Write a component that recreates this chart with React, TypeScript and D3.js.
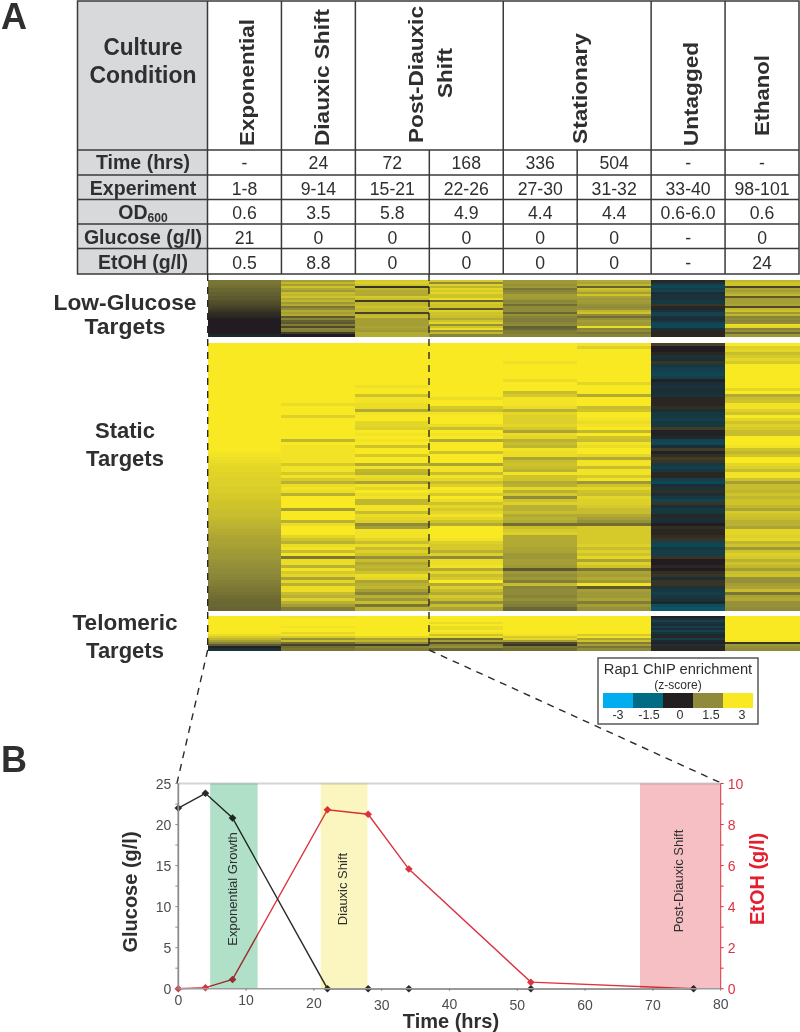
import React from "react";
import * as d3 from "d3";

// table
const columnTitles = ["Exponential", "Diauxic Shift", "Stationary", "Untagged", "Ethanol"];
const rowTitles = ["Time (hrs)", "Experiment", "OD", "Glucose (g/l)", "EtOH (g/l)"];
const timeRow = ["-", "24", "72", "168", "336", "504", "-", "-"];
const experimentRow = ["1-8", "9-14", "15-21", "22-26", "27-30", "31-32", "33-40", "98-101"];
const odRow = ["0.6", "3.5", "5.8", "4.9", "4.4", "4.4", "0.6-6.0", "0.6"];
const glucoseRow = ["21", "0", "0", "0", "0", "0", "-", "0"];
const etohRow = ["0.5", "8.8", "0", "0", "0", "0", "-", "24"];

// heatmap z-scores, one array per column, top row first
const lowGlucose = [
  [1.2, 1.2, 1.15, 1.1, 1, 1, 0.9, 0.9, 0.8, 0.8, 0.7, 0.65, 0.6, 0.5, 0.4, 0.3, 0.2, 0.15, 0.1, 0, 0, 0, 0, 0, 0, 0, 0, -0.2],
  [1.8, 2.2, 1.8, 2.4, 2, 1.7, 2.3, 2.2, 2.4, 2, 2.2, 1.7, 2, 1.2, 1.5, 2, 1.8, 2, 0.8, 1.4, 0.9, 0.8, 1.3, 0.6, 1.4, 1.3, 0.4, 0],
  [2.5, 2.6, 2.4, 0.3, 2.2, 2, 2, 2, 2.5, 2.3, 0.4, 2.2, 2.2, 2.4, 2.2, 2.2, 0.5, 2.2, 2.3, 1.8, 1.8, 1.8, 1.8, 1.9, 1.8, 1.7, 2, 2],
  [2.5, 1.5, 2.6, 2.2, 2.7, 2.5, 2.7, 2.4, 2.4, 2.8, 1, 2.5, 2.4, 2.4, 0.8, 2.6, 2.4, 2.4, 2.3, 2, 2.4, 2.7, 1.6, 2.4, 2.8, 1.6, 2.2, 1.4],
  [1.7, 1.7, 1.6, 1.7, 1.2, 1.4, 1.5, 1.8, 1.8, 1.7, 1.4, 1.5, 1.1, 1.5, 1.5, 1.5, 1, 1.6, 1.4, 1.3, 1.3, 1.4, 1.5, 0.9, 1, 1.3, 1.3, 1.4],
  [2, 1.9, 2.2, 0.9, 2.4, 2.2, 1.8, 2.4, 1.9, 1.7, 1.8, 1.7, 1.6, 1.5, 1.6, 2.2, 2.4, 1.5, 1.1, 1.6, 1.8, 1.7, 1.7, 2.8, 1.4, 1.5, 1.2, 1.4],
  [0.1, -0.4, -0.7, -0.8, -0.6, -0.7, -0.3, -0.4, -0.4, -0.4, -0.5, -0.5, 0.3, 0.1, -0.2, -0.4, -0.7, -0.7, -0.4, -0.3, -0.4, -0.7, -0.8, -0.8, -0.3, 0.1, 0.1, 0.1],
  [2.2, 2.4, 2.4, 0.5, 1.9, 1.8, 2, 2.2, 0.8, 1.8, 1.8, 1.8, 1.9, 0.6, 2.2, 2.4, 1.7, 2.2, 1.4, 1.5, 1.4, 1.5, 2.8, 2.7, 1.4, 1.6, 1, 1.7],
];

const staticTargets = [
  [
    3, 3, 3, 3, 3, 3, 3, 3, 3, 3,
    3, 3, 3, 3, 3, 3, 3, 3, 3, 3,
    3, 3, 3, 3, 3, 3, 3, 3, 3, 3,
    3, 3, 3, 3, 3, 3, 2.95, 2.9, 2.85, 2.8,
    2.75, 2.7, 2.7, 2.65, 2.65, 2.6, 2.6, 2.6, 2.55, 2.55,
    2.5, 2.5, 2.45, 2.4, 2.4, 2.35, 2.3, 2.3, 2.25, 2.2,
    2.15, 2.1, 2.05, 2, 1.95, 1.9, 1.9, 1.85, 1.8, 1.75,
    1.7, 1.7, 1.65, 1.6, 1.55, 1.5, 1.5, 1.45, 1.4, 1.35,
    1.3, 1.25, 1.2, 1.15, 1.1, 1.05, 1, 1, 0.95,
  ],
  [
    3, 3, 3, 3, 3, 3, 3, 3, 3, 3,
    3, 3, 3, 3, 3, 3, 3, 3, 3, 3,
    2.8, 3, 3, 3, 2.6, 3, 3, 3, 3, 3,
    3, 3, 2.2, 3, 2.9, 2.9, 2.9, 2.9, 2.9, 2.9,
    2.5, 2.9, 2.9, 2.5, 2.9, 2.5, 2.1, 2.8, 2.9, 2.8,
    2.1, 3, 3, 3, 3, 1.8, 3, 3, 3, 2.1,
    2.8, 3, 3, 3, 2.7, 2.4, 2.1, 2.8, 2.9, 2.3,
    2.9, 1.2, 2.8, 2.8, 2.1, 2.9, 2.5, 2.7, 1.9, 2.7,
    2.1, 2.8, 2.8, 2.3, 2.1, 2.6, 2.1, 1.8, 1.3,
  ],
  [
    3, 3, 3, 3, 3, 3, 3, 3, 3, 3,
    3, 3, 3, 3, 2.85, 3, 3, 2.4, 2.9, 2.9,
    2.8, 2.8, 2, 2.9, 3, 3, 2.7, 2.7, 2.6, 3,
    2.9, 3, 2.9, 3, 2.4, 3, 3, 2.5, 3, 3,
    2, 2.9, 2.2, 2.1, 2.8, 2.7, 1.9, 2.9, 2.7, 3,
    2.8, 2.9, 2.2, 2.2, 2.9, 2.9, 2.3, 2.8, 2.7, 2.6,
    1.5, 1.8, 2.9, 2.9, 2.9, 2.7, 2.3, 2.8, 2.3, 2.6,
    2.4, 1.6, 2.3, 2, 2.2, 2.1, 2.4, 2.8, 2.7, 1.9,
    2.1, 2.2, 1.8, 1.4, 2.1, 1.7, 2.3, 1.2, 2.1,
  ],
  [
    3, 3, 3, 3, 3, 3, 3, 3, 3, 3,
    3, 3, 3, 3, 3, 3, 3, 3, 2.8, 3,
    3, 2.5, 2.3, 2.9, 3, 3, 3, 2.8, 2.3, 3,
    2.9, 3, 2, 3, 3, 3, 2.4, 3, 3, 3,
    1.9, 2.9, 2.9, 2.3, 2.9, 2.7, 2.3, 2.6, 3, 2.9,
    2.5, 3, 2.8, 2.4, 2.7, 2.5, 2.7, 2.9, 2.7, 2.4,
    2, 3, 3, 3, 3, 2.9, 2.6, 2.5, 2.5, 2.1,
    2.6, 1.5, 2.8, 2.8, 2.9, 2, 2.7, 2.3, 2.5, 3,
    2, 2.6, 2.3, 2, 2.5, 2.3, 1.6, 2.3, 1.9,
  ],
  [
    3, 3, 3, 3, 3, 3, 2.85, 3, 3, 3,
    3, 3, 2.8, 3, 3, 3, 2.3, 2.5, 2.9, 2.9,
    2.9, 2.8, 2.1, 2.7, 2.6, 2.6, 2.6, 2.7, 2.5, 1.9,
    2.8, 2.7, 2.1, 2.3, 2.2, 2.9, 2.8, 2.8, 1.9, 2.3,
    2.4, 2.3, 2.1, 2.9, 2.4, 2.4, 2, 2.1, 2.7, 2.1,
    2.5, 1.5, 2.4, 2.6, 2.1, 2.1, 2.3, 2, 2.1, 2,
    1.1, 2.3, 2.5, 2.6, 2, 2, 2, 2, 1.9, 1.9,
    1.7, 1.7, 1.8, 1.8, 1.7, 0.8, 1.7, 1.6, 1.7, 1.3,
    2.3, 1.4, 1.5, 1.5, 1.4, 1.6, 1.4, 1.3, 1,
  ],
  [
    2.9, 2.6, 3, 3, 3, 3, 3, 3, 3, 3,
    3, 3, 3, 2.7, 3, 3, 3, 2, 3, 3,
    3, 2.3, 2.4, 3, 3, 2.9, 2.8, 2.9, 3, 2.2,
    3, 2.4, 2.3, 2.9, 2.8, 3, 3, 2.7, 2, 2.9,
    2.9, 2.3, 2.9, 2.9, 2.5, 2.9, 1.7, 2.4, 2.7, 2.4,
    2.3, 2.7, 2.6, 2.6, 2.5, 2.3, 2.3, 2, 1.8, 1.6,
    1.1, 2.5, 2.5, 2.5, 2.5, 2.5, 2.5, 2.6, 2.3, 2.6,
    2.4, 2.7, 1.9, 2.6, 2.4, 1.2, 1.9, 1.8, 2, 1.7,
    2.9, 0.8, 1.8, 1.7, 1.7, 1.9, 1.3, 1.8, 1.6,
  ],
  [
    0.5, 0, 0, 0.1, -0.4, -0.3, 0.3, -0.5, -0.6, -0.7,
    -0.8, -0.6, -0.1, -0.3, -0.4, -0.3, -0.3, -0.4, 0.1, 0.1,
    0.1, 0.2, -0.3, -0.5, -0.5, -0.6, -0.5, -0.5, 0.4, -0.1,
    -0.1, -0.2, -0.7, -0.8, -0.3, 0.4, -0.1, 0.2, 0.4, 0.3,
    -0.5, -0.6, -0.5, 0.1, 0.1, -0.6, -0.8, -0.3, -0.4, 0.2,
    -0.3, -0.5, -0.7, 0.3, -0.3, -0.5, -0.5, 0.1, -0.3, -0.3,
    0, 0.2, 0.1, 0.1, 0.2, 0.3, -0.7, -0.8, -0.5, -0.6,
    -0.6, 0.3, 0, 0, 0.1, 0, 0.2, 0.3, -0.3, 0.3,
    0.3, -0.4, -0.5, -0.6, -0.5, -0.4, -0.2, -0.9, -1.1,
  ],
  [
    3, 2.6, 2.7, 2.3, 2.5, 2.7, 2.5, 3, 3, 3,
    3, 3, 3, 3, 3, 2.7, 3, 2, 2.3, 2.4,
    2.9, 2.9, 2.6, 2.4, 3, 2.7, 2.4, 2.6, 2.5, 2.3,
    2.3, 3, 3, 3, 2.9, 2.4, 2.2, 2.4, 3, 3,
    2.7, 2.6, 2.3, 2.9, 2.9, 2.4, 1.8, 2.3, 2.3, 2.2,
    2.4, 2.2, 2.4, 2.4, 2.2, 1.9, 2.5, 2.4, 2.3, 2.1,
    2.1, 1.9, 2.7, 2.7, 2.6, 2.7, 2.2, 2.4, 1.7, 2.4,
    2.6, 2.5, 2.1, 2.4, 2.2, 1.8, 2.3, 2.4, 1.6, 1.6,
    1.8, 1.9, 2.3, 1.2, 1.9, 2, 1.6, 1.6, 1.5,
  ],
];

const telomericTargets = [
  [3, 3, 3, 3, 3, 3, 3, 3, 3, 2.8, 2.5, 2.2, 1.8, 1.4, 0.8, -0.1, -0.4],
  [2.9, 3, 3, 3, 3, 2.9, 3, 3, 2.7, 2.9, 2.5, 1.6, 2.3, 1.1, 0.5, 1.1, 1.2],
  [3, 3, 3, 3, 3, 3, 3, 3, 3, 3, 2.7, 1.9, 2.2, 1.5, 0.4, 1.4, 1.3],
  [3, 3, 3, 2.8, 3, 2.8, 2.8, 3, 2.9, 2.4, 2.8, 1.1, 1.8, 0.7, 1.4, 1.6, 1],
  [3, 3, 3, 3, 3, 3, 3, 3, 3, 2.9, 2.5, 2.7, 1.8, 0.6, 0.3, 1.2, 1.1],
  [3, 3, 3, 3, 3, 3, 3, 3, 3, 2.5, 2.9, 1.9, 2.4, 1.3, 1.8, 1.2, 1.5],
  [-0.1, -0.4, -0.7, -0.4, -0.3, -0.6, -0.3, -0.7, -0.4, -0.2, 0.1, -0.6, -0.2, -0.1, -0.4, 0.1, 0.1],
  [3, 3, 3, 3, 3, 3, 3, 3, 3, 3, 3, 3, 2.9, 0.3, 1.7, 1.6, 1.5],
];

const legendValues = [-3, -1.5, 0, 1.5, 3];
const legendColors = ["#00aeef", "#006b84", "#231f20", "#8f8b3a", "#f9e923"];

// growth curve
const hours = [0, 4, 8, 22, 28, 34, 52, 76];
const glucose = [22, 23.8, 20.8, 0, 0, 0, 0, 0];
const etoh = [0, 0.05, 0.45, 8.72, 8.5, 5.83, 0.32, 0];
const phases = [
  { name: "Exponential Growth", from: 4.7, to: 11.7, color: "#b1e0c8" },
  { name: "Diauxic Shift", from: 21, to: 27.9, color: "#fbf6bf" },
  { name: "Post-Diauxic Shift", from: 68.1, to: 80, color: "#f5bfc3" },
];
const glucoseTicks = [0, 5, 10, 15, 20, 25];
const glucoseMinor = [2.5, 7.5, 12.5, 17.5, 22.5];
const etohTicks = [0, 2, 4, 6, 8, 10];
const etohMinor = [1, 3, 5, 7, 9];
const timeTicks = [0, 10, 20, 30, 40, 50, 60, 70, 80];

const FONT = "'Liberation Sans', Arial, sans-serif";
const INK = "#2f2f30";
const RED = "#dd3340";
const LINE = "#3a3a3c";

const colX = d3.scaleBand<number>().domain(d3.range(8)).range([207.5, 799]);
const zColor = d3
  .scaleLinear<string>()
  .domain(legendValues)
  .range(legendColors)
  .clamp(true);

const rowEdges = [150, 175, 199.5, 224, 248.5, 274];
const rowBaselines = [169, 195, 219, 244, 269];
const tableRows = [timeRow, experimentRow, odRow, glucoseRow, etohRow];

const HeatGroup = ({ columns, top, bottom }: { columns: number[][]; top: number; bottom: number }) => (
  <g shapeRendering="crispEdges" filter="url(#soften)">
    {columns.map((values, c) => {
      const y = d3.scaleBand<number>().domain(d3.range(values.length)).range([top, bottom]);
      return values.map((v, i) => (
        <rect key={c + "-" + i} x={colX(c)} width={colX.bandwidth() + 0.5} y={y(i)} height={y.bandwidth() + 0.5} fill={zColor(v)} />
      ));
    })}
  </g>
);

const Table = () => {
  const cx = (i: number) => colX(i)! + colX.bandwidth() / 2;
  const titles: [string, number, number, number][] = [
    [columnTitles[0], 254, 146, 127],
    [columnTitles[1], 329, 146, 137],
    ["Post-Diauxic", 423, 143, 137],
    ["Shift", 452, 98, 50],
    [columnTitles[2], 587, 144, 111],
    [columnTitles[3], 698, 146, 104],
    [columnTitles[4], 769, 136, 81],
  ];
  return (
    <g fontFamily={FONT} fill={INK}>
      <rect x={77.5} y={1} width={130} height={273} fill="#d8d9db" />
      <text x={143} y={55} textAnchor="middle" fontWeight="bold" fontSize={24} textLength={79} lengthAdjust="spacingAndGlyphs">Culture</text>
      <text x={143} y={83} textAnchor="middle" fontWeight="bold" fontSize={24} textLength={107} lengthAdjust="spacingAndGlyphs">Condition</text>
      {titles.map(([t, x, y, len]) => (
        <text key={t} transform={`translate(${x},${y}) rotate(-90)`} fontWeight="bold" fontSize={20} textLength={len} lengthAdjust="spacingAndGlyphs">{t}</text>
      ))}
      {rowTitles.map((t, r) => (
        <text key={t} transform={`translate(143,${rowBaselines[r]}) scale(0.93,1)`} textAnchor="middle" fontWeight="bold" fontSize={21}>
          {t}
          {t === "OD" && <tspan fontSize={13} dy={3}>600</tspan>}
        </text>
      ))}
      {tableRows.map((row, r) =>
        row.map((v, c) => (
          <text key={r + "-" + c} transform={`translate(${cx(c)},${rowBaselines[r]}) scale(0.93,1)`} textAnchor="middle" fontSize={19}>{v}</text>
        ))
      )}
      <g stroke={LINE} strokeWidth={1.5} fill="none">
        <rect x={77.5} y={1} width={721.5} height={273} />
        {rowEdges.slice(0, -1).map((y) => (
          <line key={y} x1={77.5} x2={799} y1={y} y2={y} />
        ))}
        {d3.range(8).map((i) => {
          const spansHeader = i === 3 || i === 5;
          return <line key={i} x1={colX(i)} x2={colX(i)} y1={spansHeader ? 150 : 1} y2={274} />;
        })}
      </g>
    </g>
  );
};

const Legend = () => {
  const x = d3.scaleBand<number>().domain(legendValues).range([603, 753]);
  const labelX = d3.scalePoint<number>().domain(legendValues).range([618, 742]);
  return (
    <g fontFamily={FONT} fill={INK} textAnchor="middle">
      <rect x={598} y={658} width={160} height={66} fill="#fff" stroke="#58585a" strokeWidth={1.5} />
      <text x={678} y={674} fontSize={14.7}>Rap1 ChIP enrichment</text>
      <text x={678} y={689} fontSize={12}>(z-score)</text>
      {legendValues.map((v) => (
        <g key={v}>
          <rect x={x(v)} y={693} width={x.bandwidth()} height={15} fill={zColor(v)} shapeRendering="crispEdges" />
          <text x={labelX(v)} y={719} fontSize={12.5}>{v}</text>
        </g>
      ))}
    </g>
  );
};

const GrowthPlot = () => {
  const x = d3.scaleLinear().domain([0, 80]).range([178.3, 720.7]);
  const yG = d3.scaleLinear().domain([0, 25]).range([988.7, 783.5]);
  const yE = d3.scaleLinear().domain([0, 10]).range([988.7, 783.5]);
  const lineG = d3.line<number>().x((_, i) => x(hours[i])).y((d) => yG(d));
  const lineE = d3.line<number>().x((_, i) => x(hours[i])).y((d) => yE(d));
  const diamond = d3.symbol(d3.symbolDiamond, 20)()!;
  const labelDrop = [0, 0, 3, 5, 4, 5, 5, 5, 4];
  const phaseLabels = [
    { cy: 889, base: 237 },
    { cy: 889, base: 347 },
    { cy: 881, base: 683 },
  ];
  return (
    <g fontFamily={FONT}>
      <line x1={x(0)} x2={x(80)} y1={yG(25)} y2={yG(25)} stroke="#d4d4d4" strokeWidth={2} />
      <path d={lineE(etoh)!} fill="none" stroke={RED} strokeWidth={1.4} />
      <path d={lineG(glucose)!} fill="none" stroke="#2b2b2b" strokeWidth={1.4} />
      {hours.map((h, i) => (
        <path key={"g" + h} d={diamond} fill="#2b2b2b" transform={`translate(${x(h)},${yG(glucose[i])}) scale(1.6,0.9)`} />
      ))}
      {hours.slice(0, 7).map((h, i) => (
        <path key={"e" + h} d={diamond} fill={RED} transform={`translate(${x(h)},${yE(etoh[i])}) scale(1.6,0.9)`} />
      ))}
      {phases.map((p) => (
        <rect key={p.name} x={x(p.from)} width={x(p.to) - x(p.from)} y={yG(25)} height={yG(0) - yG(25)} fill={p.color} style={{ mixBlendMode: "multiply" }} />
      ))}
      {phases.map((p, i) => (
        <text key={p.name} transform={`translate(${phaseLabels[i].base},${phaseLabels[i].cy}) rotate(-90)`} textAnchor="middle" fontSize={13} fill={INK}>{p.name}</text>
      ))}

      <line x1={x(0)} x2={x(80)} y1={yG(0)} y2={yG(0)} stroke="#9b9b9b" strokeWidth={1.5} />
      <line x1={x(0)} x2={x(0)} y1={yG(25)} y2={yG(0)} stroke="#8c8c8c" strokeWidth={1.8} />
      <line x1={x(80)} x2={x(80)} y1={yE(10)} y2={yE(0)} stroke={RED} strokeWidth={1} />

      {glucoseTicks.map((t) => (
        <g key={t}>
          <line x1={x(0) - 3} x2={x(0)} y1={yG(t)} y2={yG(t)} stroke="#8c8c8c" />
          <text x={x(0) - 7} y={yG(t) + 5} textAnchor="end" fontSize={14} fill="#4d4d4f">{t}</text>
        </g>
      ))}
      {glucoseMinor.map((t) => (
        <line key={t} x1={x(0) - 3} x2={x(0)} y1={yG(t)} y2={yG(t)} stroke="#8c8c8c" />
      ))}
      {etohTicks.map((t) => (
        <g key={t}>
          <line x1={x(80)} x2={x(80) + 3} y1={yE(t)} y2={yE(t)} stroke={RED} />
          <text x={x(80) + 7} y={yE(t) + 5} fontSize={14} fill={RED}>{t}</text>
        </g>
      ))}
      {etohMinor.map((t) => (
        <line key={t} x1={x(80)} x2={x(80) + 3} y1={yE(t)} y2={yE(t)} stroke={RED} />
      ))}
      {timeTicks.map((t, i) => (
        <g key={t}>
          <line x1={x(t)} x2={x(t)} y1={yG(0)} y2={yG(0) + 2} stroke="#777" />
          <text x={x(t)} y={1005 + labelDrop[i]} textAnchor="middle" fontSize={14} fill="#4d4d4f">{t}</text>
        </g>
      ))}

      <text x={451} y={1028} textAnchor="middle" fontWeight="bold" fontSize={20} fill={INK}>Time (hrs)</text>
      <text transform="translate(137,892) rotate(-90)" textAnchor="middle" fontWeight="bold" fontSize={20} fill={INK}>Glucose (g/l)</text>
      <text transform="translate(764,879) rotate(-90)" textAnchor="middle" fontWeight="bold" fontSize={20} fill="#e3202f">EtOH (g/l)</text>
    </g>
  );
};

export default function App() {
  const dash = "7 6";
  return (
    <svg width={800} height={1032} style={{ position: "absolute", left: 0, top: 0, background: "#fff" }}>
      <defs>
        <filter id="soften" x="0" y="-2%" width="100%" height="104%">
          <feGaussianBlur stdDeviation="0 0.7" />
        </filter>
      </defs>
      <text x={1} y={29} fontFamily={FONT} fontWeight="bold" fontSize={36} fill={INK}>A</text>
      <text x={1} y={772} fontFamily={FONT} fontWeight="bold" fontSize={36} fill={INK}>B</text>

      <Table />

      <g fontFamily={FONT} fontWeight="bold" fontSize={22} fill={INK} textAnchor="middle">
        <text x={125} y={310} textLength={143} lengthAdjust="spacingAndGlyphs">Low-Glucose</text>
        <text x={125} y={334} textLength={81} lengthAdjust="spacingAndGlyphs">Targets</text>
        <text x={125} y={438}>Static</text>
        <text x={125} y={466}>Targets</text>
        <text x={125} y={630} textLength={105} lengthAdjust="spacingAndGlyphs">Telomeric</text>
        <text x={125} y={658}>Targets</text>
      </g>

      <HeatGroup columns={lowGlucose} top={280} bottom={336.5} />
      <HeatGroup columns={staticTargets} top={343} bottom={610} />
      <HeatGroup columns={telomericTargets} top={616} bottom={650} />

      <g stroke="#2a2a2a" strokeWidth={1.4} strokeDasharray={dash} fill="none">
        <line x1={207.7} x2={207.7} y1={274} y2={650} />
        <line x1={429} x2={429} y1={274} y2={650} />
        <line x1={207.7} x2={177} y1={650} y2={783} />
        <line x1={429} x2={721} y1={650} y2={783} />
      </g>

      <Legend />
      <GrowthPlot />
    </svg>
  );
}
